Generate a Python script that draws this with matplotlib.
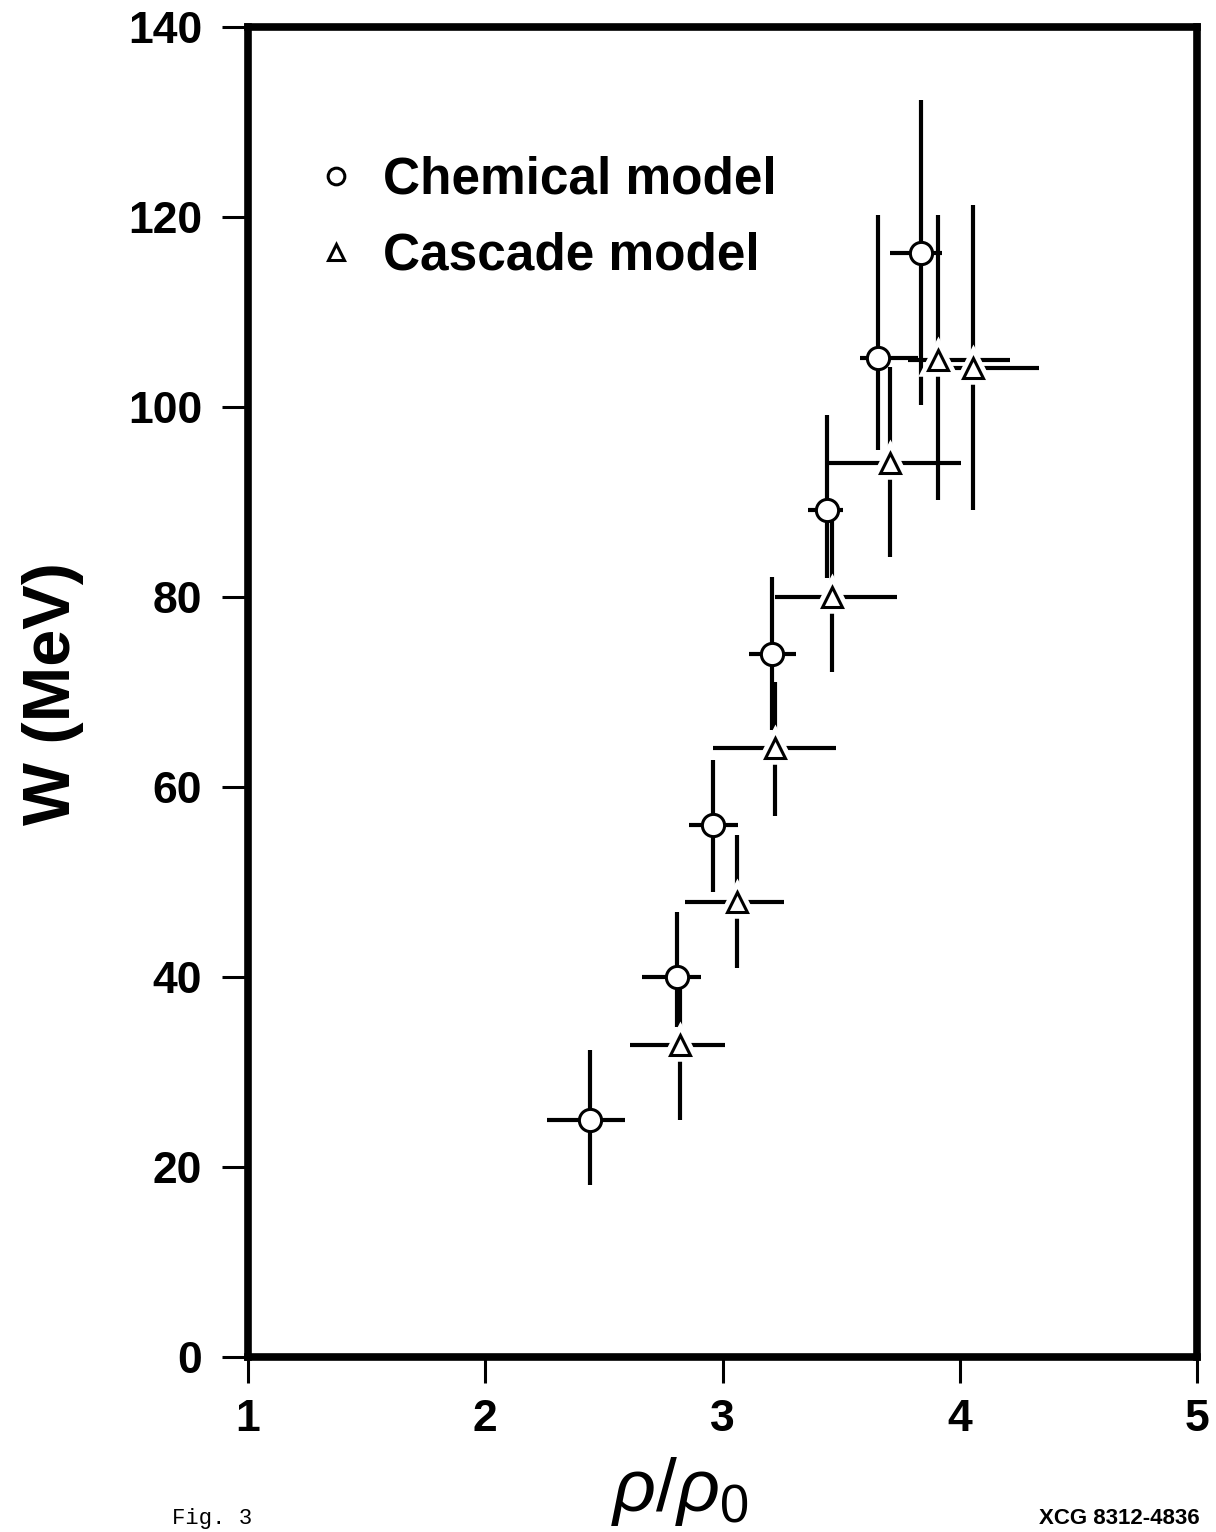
import matplotlib
matplotlib.use("Agg")
import matplotlib.pyplot as plt
from matplotlib.lines import Line2D

plt.rcParams['font.family'] = ['Liberation Sans', 'DejaVu Sans']
plt.rcParams['mathtext.fontset'] = 'custom'
plt.rcParams['mathtext.rm'] = 'Liberation Sans'
plt.rcParams['mathtext.it'] = 'Liberation Sans:italic'

# Chemical model (circles)
chem_x = [2.44, 2.81, 2.96, 3.21, 3.44, 3.655, 3.837]
chem_y = [25.0, 40.0, 56.0, 74.0, 89.2, 105.2, 116.2]
chem_xlo = [0.18, 0.15, 0.10, 0.10, 0.08, 0.075, 0.13]
chem_xhi = [0.15, 0.10, 0.105, 0.10, 0.07, 0.17, 0.09]
chem_ylo = [6.9, 5.3, 7.1, 8.0, 7.2, 9.7, 16.0]
chem_yhi = [7.3, 6.8, 6.8, 8.1, 10.0, 15.0, 16.1]

# Cascade model (triangles)
casc_x = [2.82, 3.06, 3.22, 3.46, 3.706, 3.91, 4.056]
casc_y = [32.8, 47.9, 64.1, 80.0, 94.1, 105.0, 104.1]
casc_xlo = [0.21, 0.22, 0.26, 0.24, 0.27, 0.13, 0.09]
casc_xhi = [0.19, 0.20, 0.26, 0.275, 0.30, 0.30, 0.28]
casc_ylo = [7.9, 6.9, 7.1, 7.9, 9.9, 14.8, 14.9]
casc_yhi = [7.0, 7.1, 7.0, 9.0, 10.1, 15.2, 17.2]

xticks = [1, 2, 3, 4, 5]
yticks = [0, 20, 40, 60, 80, 100, 120, 140]

W, H = 1216, 1532
fig = plt.figure(figsize=(W / 100, H / 100), dpi=100)
L, R, T, B = 248, 1197, 27, 1357
ax = fig.add_axes([L / W, 1 - B / H, (R - L) / W, (B - T) / H])
ax.set_xlim(1, 5)
ax.set_ylim(0, 140)

lw_err = 3.0
ax.errorbar(chem_x, chem_y, xerr=[chem_xlo, chem_xhi], yerr=[chem_ylo, chem_yhi],
            fmt='none', ecolor='black', elinewidth=lw_err, capsize=0, zorder=2)
ax.errorbar(casc_x, casc_y, xerr=[casc_xlo, casc_xhi], yerr=[casc_ylo, casc_yhi],
            fmt='none', ecolor='black', elinewidth=lw_err, capsize=0, zorder=2)
# white halo behind triangles to reproduce gaps
ax.plot(casc_x, casc_y, linestyle='none', marker='^', ms=15, mfc='white',
        mec='white', mew=9, zorder=3)
ax.plot(casc_x, casc_y, linestyle='none', marker='^', ms=15, mfc='white',
        mec='black', mew=2.2, zorder=4)
ax.plot(chem_x, chem_y, linestyle='none', marker='o', ms=16, mfc='white',
        mec='black', mew=2.2, zorder=4)

for s in ax.spines.values():
    s.set_linewidth(5.5)
    s.set_capstyle('projecting')

ax.set_xticks(xticks)
ax.set_yticks(yticks)
ax.set_xticklabels([str(v) for v in xticks], fontweight='bold')
ax.set_yticklabels([str(v) for v in yticks], fontweight='bold')
ax.tick_params(axis='both', direction='out', length=19, width=2.2,
               labelsize=32, colors='black')
ax.tick_params(axis='y', pad=14)
ax.tick_params(axis='x', pad=11)

handles = [Line2D([], [], linestyle='none', marker='o', ms=12, mfc='white', mec='black', mew=2.2),
           Line2D([], [], linestyle='none', marker='^', ms=12, mfc='white', mec='black', mew=2.2)]
ax.legend(handles, ['Chemical model', 'Cascade model'], loc='upper left',
          bbox_to_anchor=((310 - L) / (R - L), (B - 156) / (B - T)),
          frameon=False, prop={'size': 37, 'weight': 'bold'},
          handlelength=1.0, handletextpad=0.42,
          borderpad=0, borderaxespad=0, labelspacing=0.52)

fig.text(53 / W, 1 - 693 / H, 'W (MeV)', rotation=90, ha='center', va='center',
         fontsize=48, fontweight='bold')
fig.text(680 / W, 1 - 1492 / H, r'$\it{\rho/\rho}_{\rm 0}$', ha='center', va='center',
         fontsize=54)
fig.text(172 / W, 1 - 1529 / H, 'Fig. 3', ha='left', va='bottom', fontsize=16,
         family='Liberation Mono')
fig.text(1200 / W, 1 - 1529 / H, 'XCG 8312-4836', ha='right', va='bottom', fontsize=16,
         fontweight='bold')

fig.savefig('out.png', dpi=100)
